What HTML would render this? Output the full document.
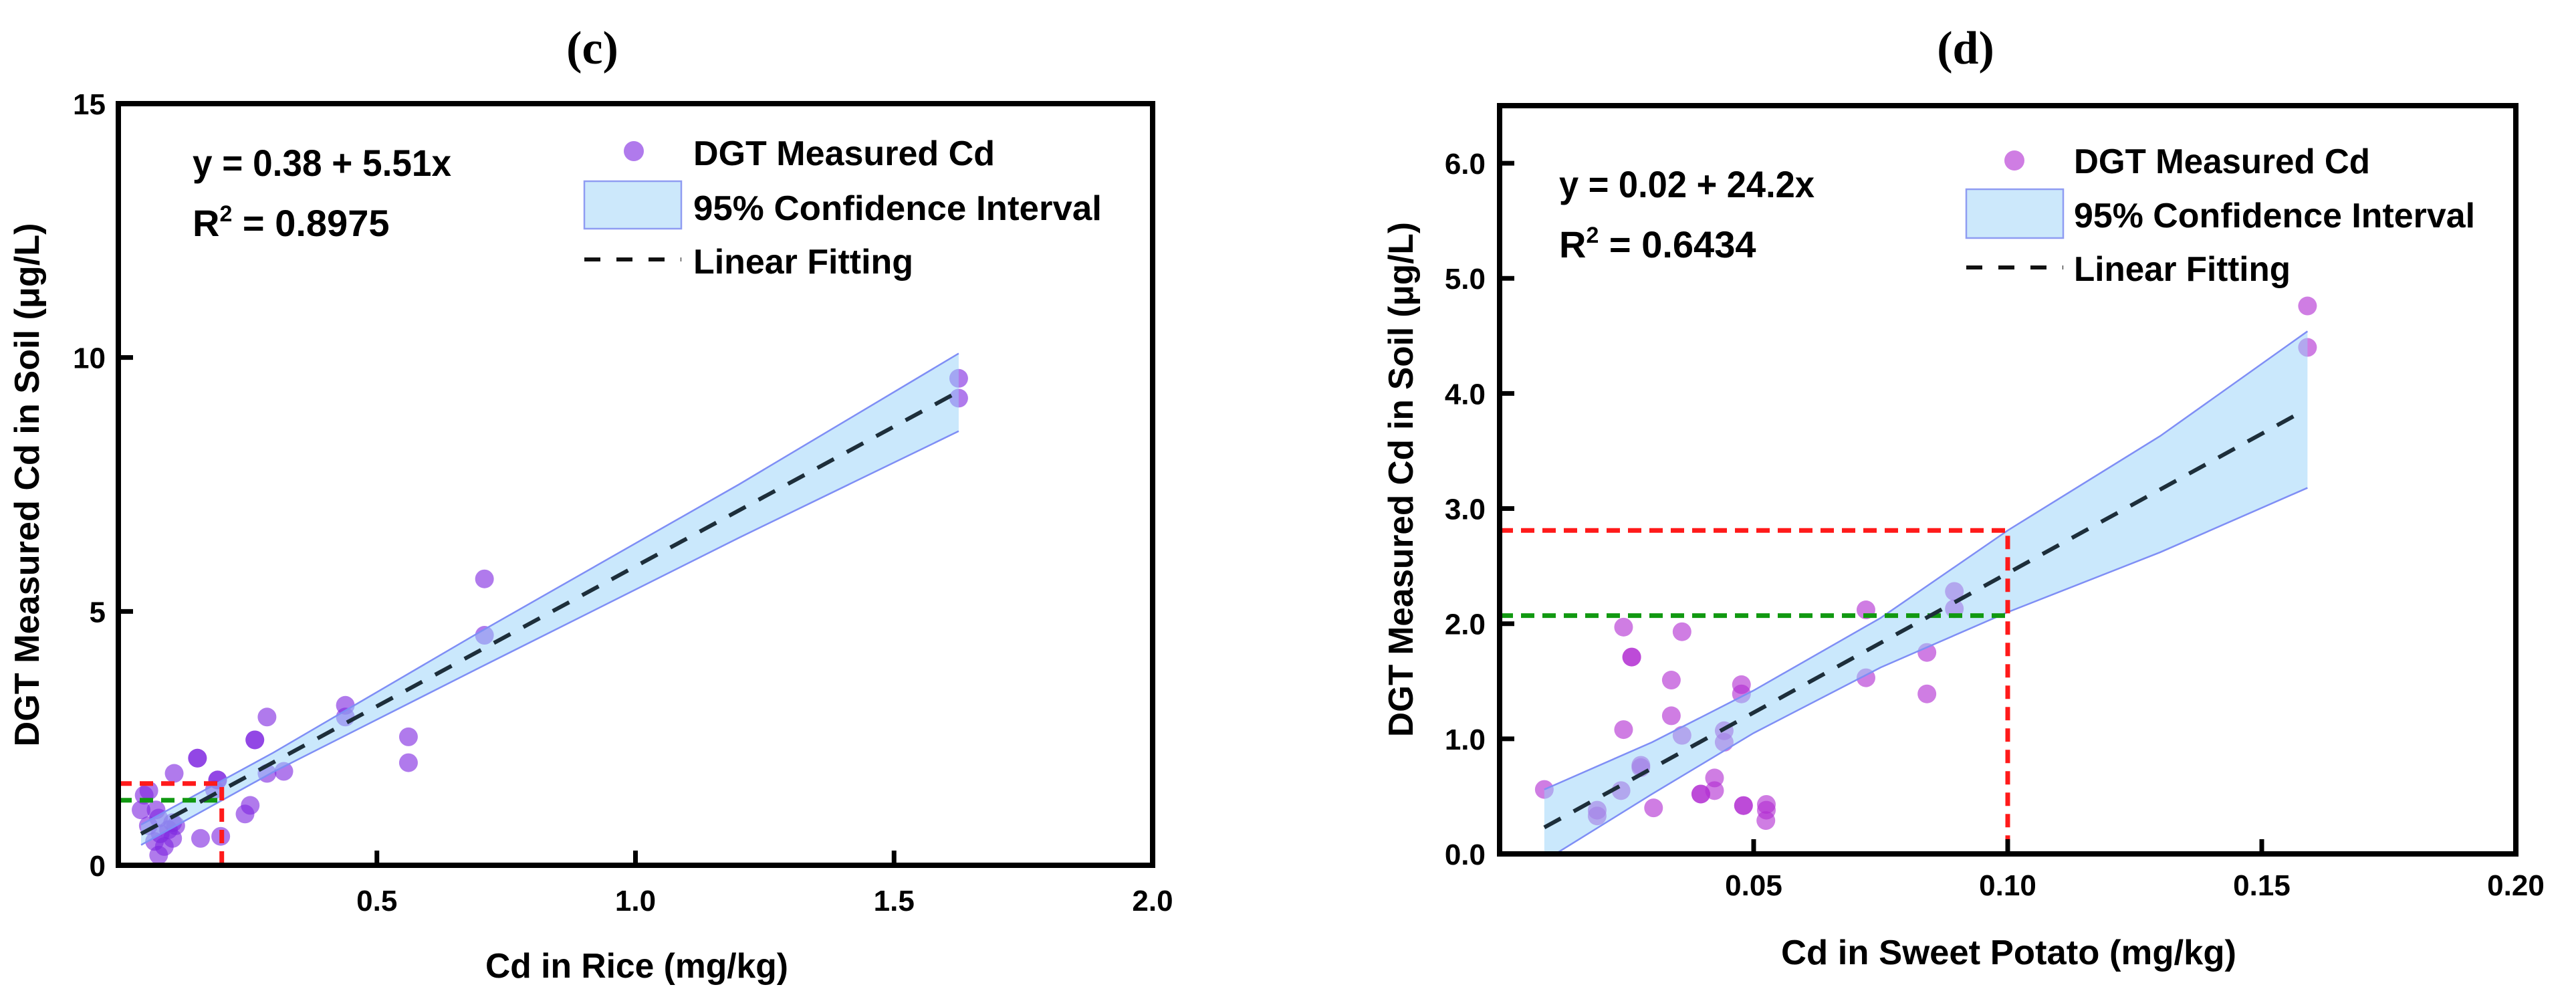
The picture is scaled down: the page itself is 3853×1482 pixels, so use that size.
<!DOCTYPE html>
<html><head><meta charset="utf-8"><style>
html,body{margin:0;padding:0;background:#fff;}
svg{display:block;}
text{font-family:"Liberation Sans",sans-serif;font-weight:bold;fill:#000;}
.serif{font-family:"Liberation Serif",serif;}
</style></head><body>
<svg id="chart" width="3853" height="1482" viewBox="0 0 3853 1482" xmlns="http://www.w3.org/2000/svg">
<defs>
<clipPath id="clipC"><rect x="177" y="155" width="1547" height="1139"/></clipPath>
<clipPath id="clipD"><rect x="2243" y="158" width="1520" height="1119"/></clipPath>
</defs>
<g id="panelC"></g>
<g id="panelD"></g>
</svg>
<script>
// ---- Panel (c) data ----
const cX = [1.625,1.625,0.708,0.708,0.439,0.439,0.561,0.561,0.2875,0.264,0.264,0.153,0.153,0.108,0.192,0.192,0.2875,0.32,0.186,0.255,0.245,0.05,0.059,0.044,0.073,0.078,0.105,0.111,0.097,0.081,0.070,0.078,0.105,0.159,0.198,0.058,0.089];
const cY = [9.59,9.20,5.64,4.53,3.15,2.92,2.53,2.02,2.92,2.47,2.47,2.11,2.11,1.81,1.68,1.68,1.81,1.85,1.49,1.18,1.01,1.38,1.47,1.09,1.09,0.93,0.84,0.78,0.70,0.62,0.47,0.20,0.53,0.53,0.57,0.78,0.37];
const cCiX = [0.044,0.3,0.7,1.2,1.625];
const cCiUpper = [0.80,2.22,4.60,7.50,10.08];
const cCiLower = [0.40,1.84,3.90,6.45,8.55];
const cFitX = [0.044,1.625];
const cFitY = [0.62,9.33];
const cRefRed = [0.2,1.61];
const cRefGreen = [0.2,1.28];
const cXTicks = [0.5,1.0,1.5,2.0];
const cXTickLabels = ["0.5","1.0","1.5","2.0"];
const cYTicks = [0,5,10,15];
const cYTickLabels = ["0","5","10","15"];

// ---- Panel (d) data ----
const dX = [0.159,0.159,0.0895,0.0895,0.0721,0.0841,0.0721,0.0841,0.0244,0.0359,0.026,0.026,0.0338,0.0476,0.0476,0.0338,0.0244,0.0359,0.0442,0.0442,0.0278,0.0278,0.0423,0.0423,0.0396,0.0396,0.0239,0.0088,0.0192,0.0192,0.0303,0.048,0.048,0.0525,0.0525,0.0524];
const dY = [4.76,4.40,2.28,2.13,2.12,1.75,1.53,1.39,1.97,1.93,1.71,1.71,1.51,1.47,1.39,1.20,1.08,1.03,1.07,0.97,0.77,0.75,0.66,0.55,0.52,0.52,0.55,0.56,0.38,0.33,0.40,0.42,0.42,0.43,0.38,0.29];
const dCiX = [0.0088,0.03,0.05,0.075,0.1,0.13,0.159];
const dCiUpper = [0.56,0.97,1.42,2.05,2.81,3.63,4.54];
const dCiLower = [-0.06,0.52,1.05,1.62,2.10,2.62,3.18];
const dFitX = [0.0088,0.1566];
const dFitY = [0.23,3.81];
const dRefRed = [0.1,2.81];
const dRefGreen = [0.1,2.07];
const dXTicks = [0.05,0.10,0.15,0.20];
const dXTickLabels = ["0.05","0.10","0.15","0.20"];
const dYTicks = [0,1,2,3,4,5,6];
const dYTickLabels = ["0.0","1.0","2.0","3.0","4.0","5.0","6.0"];

const NS = "http://www.w3.org/2000/svg";
function mk(parent, tag, attrs, txt){
  const e = document.createElementNS(NS, tag);
  for (const k in attrs) e.setAttribute(k, attrs[k]);
  if (txt !== undefined) e.textContent = txt;
  parent.appendChild(e);
  return e;
}

function drawPanel(g, cfg){
  const sx = v => cfg.x0 + (v - cfg.xmin) / (cfg.xmax - cfg.xmin) * (cfg.x1 - cfg.x0);
  const sy = v => cfg.y0 - (v - cfg.ymin) / (cfg.ymax - cfg.ymin) * (cfg.y0 - cfg.y1);

  // title
  const t = mk(g, 'text', {x: cfg.titleX, y: 95, 'text-anchor': 'middle', 'font-size': 70, class: 'serif'}, cfg.title);
  
  

  const plot = mk(g, 'g', {'clip-path': 'url(#' + cfg.clip + ')'});
  
  

  // points
  for (let i = 0; i < cfg.px.length; i++){
    const c = mk(plot, 'circle', {cx: sx(cfg.px[i]), cy: sy(cfg.py[i]), r: 14, fill: cfg.ptColor});
    
    
  }

  // CI band
  let d = '';
  for (let i = 0; i < cfg.ciX.length; i++) d += (i ? 'L' : 'M') + sx(cfg.ciX[i]) + ' ' + sy(cfg.ciU[i]);
  for (let i = cfg.ciX.length - 1; i >= 0; i--) d += 'L' + sx(cfg.ciX[i]) + ' ' + sy(cfg.ciL[i]);
  d += 'Z';
  const band = mk(plot, 'path', {d: d, fill: 'rgba(150,210,250,0.5)', stroke: 'none'});
  
  
  let du = '', dl = '';
  for (let i = 0; i < cfg.ciX.length; i++){
    du += (i ? 'L' : 'M') + sx(cfg.ciX[i]) + ' ' + sy(cfg.ciU[i]);
    dl += (i ? 'L' : 'M') + sx(cfg.ciX[i]) + ' ' + sy(cfg.ciL[i]);
  }
  const bu = mk(plot, 'path', {d: du, fill: 'none', stroke: '#7f8ef5', 'stroke-width': 2.5});
  
  
  const bl = mk(plot, 'path', {d: dl, fill: 'none', stroke: '#7f8ef5', 'stroke-width': 2.5});
  
  

  // reference lines
  const rr = mk(plot, 'path', {d: 'M' + cfg.x0 + ' ' + sy(cfg.red[1]) + 'L' + sx(cfg.red[0]) + ' ' + sy(cfg.red[1]) + 'L' + sx(cfg.red[0]) + ' ' + cfg.y0, fill: 'none', stroke: '#ff1a1a', 'stroke-width': 7, 'stroke-dasharray': '20 12'});
  
  
  const gr = mk(plot, 'path', {d: 'M' + cfg.x0 + ' ' + sy(cfg.green[1]) + 'L' + sx(cfg.green[0]) + ' ' + sy(cfg.green[1]), fill: 'none', stroke: '#119911', 'stroke-width': 7, 'stroke-dasharray': '20 12'});
  
  

  // fit line
  const fl = mk(plot, 'line', {x1: sx(cfg.fitX[0]), y1: sy(cfg.fitY[0]), x2: sx(cfg.fitX[1]), y2: sy(cfg.fitY[1]), stroke: '#1d2e3a', 'stroke-width': 6, 'stroke-dasharray': '28 22'});
  
  

  // frame
  const fr = mk(g, 'rect', {x: cfg.x0, y: cfg.y1, width: cfg.x1 - cfg.x0, height: cfg.y0 - cfg.y1, fill: 'none', stroke: '#000', 'stroke-width': 8});
  
  

  // ticks
  for (let i = 0; i < cfg.xt.length; i++){
    const x = sx(cfg.xt[i]);
    if (cfg.xt[i] < cfg.xmax) {
      const tk = mk(g, 'line', {x1: x, y1: cfg.y0, x2: x, y2: cfg.y0 - 22, stroke: '#000', 'stroke-width': 7});
      
      
    }
    const lb = mk(g, 'text', {x: x, y: cfg.y0 + cfg.xLabOff, 'text-anchor': 'middle', 'font-size': 44}, cfg.xtl[i]);
    
    
  }
  for (let i = 0; i < cfg.yt.length; i++){
    const y = sy(cfg.yt[i]);
    if (cfg.yt[i] > cfg.ymin && cfg.yt[i] < cfg.ymaxTick) {
      const tk = mk(g, 'line', {x1: cfg.x0, y1: y, x2: cfg.x0 + 22, y2: y, stroke: '#000', 'stroke-width': 7});
      
      
    }
    const lb = mk(g, 'text', {x: cfg.yLabX, y: y + 16, 'text-anchor': 'end', 'font-size': 44}, cfg.ytl[i]);
    
    
  }

  // axis titles
  const xt = mk(g, 'text', {x: cfg.xTitleX, y: cfg.xTitleY, 'font-size': 52, textLength: cfg.xTitleW, lengthAdjust: 'spacingAndGlyphs'}, cfg.xTitle);
  
  
  const yt = mk(g, 'text', {x: 0, y: 0, 'font-size': 52, 'text-anchor': 'middle', textLength: cfg.yTitleW, lengthAdjust: 'spacingAndGlyphs', transform: 'translate(' + cfg.yTitleX + ',' + cfg.yTitleY + ') rotate(-90)'}, 'DGT Measured Cd in Soil (μg/L)');
  
  

  // equation
  const eq = mk(g, 'text', {x: cfg.eqX, y: cfg.eqY, 'font-size': 56, textLength: cfg.eqW, lengthAdjust: 'spacingAndGlyphs'}, cfg.eq);
  
  
  const r2 = mk(g, 'text', {x: cfg.eqX, y: cfg.eqY + 90, 'font-size': 56}, '');
  
  
  mk(r2, 'tspan', {}, 'R');
  mk(r2, 'tspan', {dy: -22, 'font-size': 34}, '2');
  mk(r2, 'tspan', {dy: 22}, ' = ' + cfg.r2);

  // legend
  const lg = mk(g, 'g', {});
  
  
  const L = cfg.leg;
  const m = mk(lg, 'circle', {cx: L.mx, cy: L.my, r: 15, fill: cfg.ptColor});
  
  
  const t1 = mk(lg, 'text', {x: L.tx, y: L.b1, 'font-size': 52, textLength: L.w1, lengthAdjust: 'spacingAndGlyphs'}, 'DGT Measured Cd');
  
  
  const rc = mk(lg, 'rect', {x: L.rx, y: L.ry, width: L.rw, height: L.rh, fill: '#cce8fb', stroke: '#8f9cf2', 'stroke-width': 2.5});
  
  
  const t2 = mk(lg, 'text', {x: L.tx, y: L.b2, 'font-size': 52, textLength: L.w2, lengthAdjust: 'spacingAndGlyphs'}, '95% Confidence Interval');
  
  
  const dl2 = mk(lg, 'line', {x1: L.rx, y1: L.dy, x2: L.rx + L.rw, y2: L.dy, stroke: '#111', 'stroke-width': 6, 'stroke-dasharray': '24 24'});
  
  
  const t3 = mk(lg, 'text', {x: L.tx, y: L.b3, 'font-size': 52, textLength: L.w3, lengthAdjust: 'spacingAndGlyphs'}, 'Linear Fitting');
  
  
}

drawPanel(document.getElementById('panelC'), {
  title: '(c)', titleX: 886, clip: 'clipC',
  x0: 177, x1: 1724, y0: 1294, y1: 155, xmin: 0, xmax: 2.0, ymin: 0, ymax: 15, ymaxTick: 15,
  px: cX, py: cY, ptColor: 'rgba(128,40,225,0.62)',
  ciX: cCiX, ciU: cCiUpper, ciL: cCiLower, fitX: cFitX, fitY: cFitY, red: cRefRed, green: cRefGreen,
  xt: cXTicks, xtl: cXTickLabels, yt: cYTicks, ytl: cYTickLabels, xLabOff: 68, yLabX: 158,
  xTitle: 'Cd in Rice (mg/kg)', xTitleX: 726, xTitleY: 1462, xTitleW: 453,
  yTitleX: 58, yTitleY: 725, yTitleW: 783,
  eq: 'y = 0.38 + 5.51x', eqX: 288, eqY: 263, eqW: 387, r2: '0.8975',
  leg: {mx: 948, my: 226, tx: 1037, b1: 247, w1: 451, b2: 329, w2: 611, b3: 409, w3: 329, rx: 874, ry: 271, rw: 145, rh: 71, dy: 388}
});

drawPanel(document.getElementById('panelD'), {
  title: '(d)', titleX: 2940, clip: 'clipD',
  x0: 2243, x1: 3763, y0: 1277, y1: 158, xmin: 0, xmax: 0.20, ymin: 0, ymax: 6.5, ymaxTick: 6.5,
  px: dX, py: dY, ptColor: 'rgba(178,45,210,0.62)',
  ciX: dCiX, ciU: dCiUpper, ciL: dCiLower, fitX: dFitX, fitY: dFitY, red: dRefRed, green: dRefGreen,
  xt: dXTicks, xtl: dXTickLabels, yt: dYTicks, ytl: dYTickLabels, xLabOff: 62, yLabX: 2222,
  xTitle: 'Cd in Sweet Potato (mg/kg)', xTitleX: 2664, xTitleY: 1442, xTitleW: 681,
  yTitleX: 2113, yTitleY: 717, yTitleW: 770,
  eq: 'y = 0.02 + 24.2x', eqX: 2332, eqY: 295, eqW: 382, r2: '0.6434',
  leg: {mx: 3013, my: 240, tx: 3102, b1: 259, w1: 443, b2: 340, w2: 600, b3: 420, w3: 324, rx: 2941, ry: 283, rw: 145, rh: 73, dy: 400}
});
</script>
</body></html>
